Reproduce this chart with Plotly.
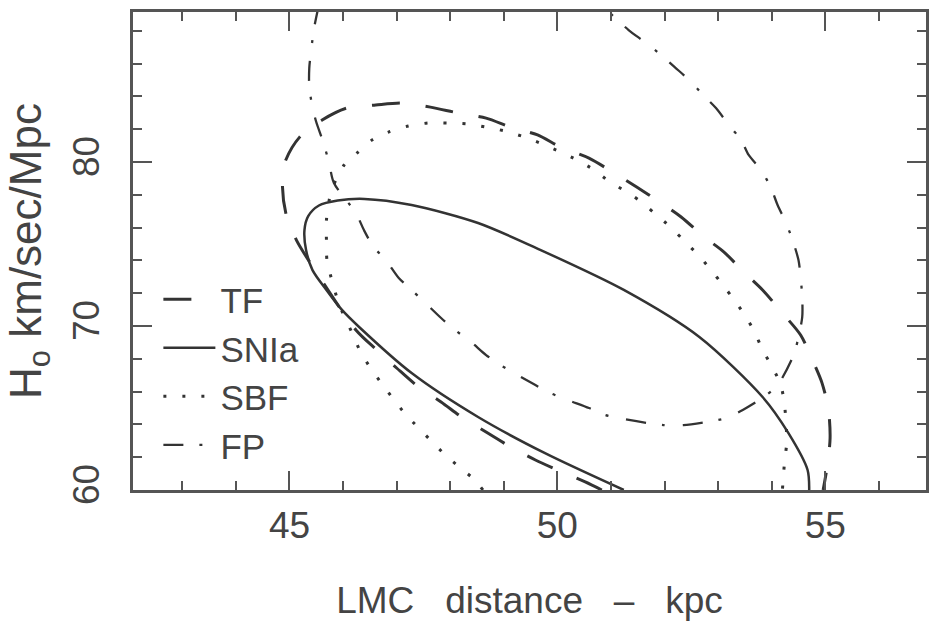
import plotly.graph_objects as go

# ---- data (LMC distance [kpc], H0 [km/s/Mpc]) ----
tf_x = [50.83, 50.52, 50.00, 49.59, 49.13, 48.70, 48.24, 47.83, 47.41, 47.00, 46.63, 46.24,
        45.56, 45.13, 44.94, 44.87, 44.91, 45.19, 45.61, 46.07, 46.61, 47.13, 47.63, 48.15,
        48.67, 49.13, 49.63, 50.06, 50.59, 51.06, 51.48, 51.91, 52.31, 52.74, 53.11, 53.48,
        53.83, 54.20, 54.54, 54.76, 54.94, 55.06, 55.09, 55.04, 54.96]
tf_y = [60.0, 60.49, 61.22, 61.83, 62.62, 63.48, 64.39, 65.37, 66.28, 67.44, 68.54, 69.76,
        72.99, 75.24, 76.77, 78.48, 79.94, 81.52, 82.56, 83.29, 83.48, 83.60, 83.35, 82.99,
        82.68, 82.13, 81.65, 80.91, 80.24, 79.33, 78.48, 77.56, 76.65, 75.43, 74.51, 73.29,
        72.20, 70.79, 69.45, 67.93, 66.52, 64.88, 63.17, 61.52, 60.0]

snia_x = [51.24, 49.76, 48.52, 47.28, 46.30, 45.98, 45.69, 45.43, 45.31, 45.28, 45.35,
          45.55, 45.90, 46.40, 47.28, 48.52, 49.69, 51.24, 52.65, 53.83, 54.31, 54.67, 54.70]
snia_y = [60.0, 62.26, 64.45, 67.13, 69.94, 70.98, 72.20, 73.41, 74.63, 75.85, 76.70,
          77.35, 77.65, 77.75, 77.38, 76.28, 74.63, 72.20, 69.33, 65.67, 63.48, 61.22, 60.0]

sbf_x = [48.61, 48.46, 48.19, 47.91, 47.63, 47.41, 47.13, 46.91, 46.70, 46.50, 46.31, 46.17,
         45.93, 45.78, 45.70, 45.69, 45.69, 45.78, 46.02, 46.26, 46.54, 46.85, 47.22, 47.59,
         47.96, 48.33, 48.67, 49.02, 49.39, 49.72, 50.06, 50.37, 50.69, 50.98, 51.30, 51.57,
         51.85, 52.13, 52.37, 52.63, 52.87, 53.09, 53.30, 53.52, 53.69, 53.83, 54.02, 54.17,
         54.24, 54.28, 54.24, 54.20]
sbf_y = [60.0, 60.61, 61.34, 62.13, 63.05, 63.78, 64.76, 65.67, 66.59, 67.50, 68.54, 69.57,
         71.30, 72.93, 74.02, 75.24, 76.46, 78.20, 79.82, 80.55, 81.34, 81.83, 82.20, 82.38,
         82.38, 82.32, 82.13, 81.89, 81.52, 81.10, 80.61, 80.12, 79.51, 78.78, 78.17, 77.56,
         76.77, 75.98, 75.18, 74.33, 73.41, 72.50, 71.59, 70.55, 69.57, 68.54, 67.44, 66.40,
         65.18, 62.93, 61.71, 60.0]

fp_x = [45.55, 45.46, 45.41, 45.37, 45.37, 45.43, 45.50, 45.63, 45.74, 45.83, 46.24, 46.39,
        46.57, 46.80, 47.04, 47.28, 47.54, 47.83, 48.09, 48.39, 48.67, 48.94, 49.26, 49.59,
        49.87, 50.19, 50.59, 50.89, 51.24, 51.67, 51.98, 52.35, 52.78, 53.15, 53.46, 53.85,
        54.11, 54.41, 54.50, 54.57, 54.57, 54.54, 54.50, 54.39, 54.26, 54.11, 53.98, 53.80,
        53.57, 53.43, 53.20, 52.96, 52.72, 52.46, 52.19, 51.94, 51.63, 51.33, 50.98, 50.80]
fp_y = [89.60, 88.17, 86.95, 85.73, 84.57, 83.35, 82.44, 81.22, 79.94, 78.72, 76.89, 75.85,
        74.82, 74.02, 72.93, 72.20, 71.40, 70.49, 69.76, 69.02, 68.23, 67.62, 67.01, 66.40,
        65.91, 65.49, 65.00, 64.57, 64.33, 64.09, 63.96, 63.96, 64.15, 64.39, 64.88, 65.67,
        66.40, 68.23, 69.33, 70.55, 71.71, 72.99, 74.02, 75.24, 76.34, 77.38, 78.48, 79.51,
        80.43, 81.34, 82.26, 83.29, 84.09, 85.00, 85.79, 86.52, 87.32, 88.05, 89.09, 89.60]

names = ["TF", "SNIa", "SBF", "FP"]
x_ticks = [45, 50, 55]
y_ticks = [60, 70, 80]

INK = "#333333"
AX = "#555555"
TXT = "#444444"
FONT = "Liberation Sans"

fig = go.Figure()
styles = {
    "TF": dict(width=3.0, dash="28px,26px"),
    "SNIa": dict(width=2.5, dash="solid"),
    "SBF": dict(width=3.0, dash="3px,16px"),
    "FP": dict(width=2.3, dash="20px,16px,3px,18px"),
}
for nm, xs, ys in zip(names, [tf_x, snia_x, sbf_x, fp_x], [tf_y, snia_y, sbf_y, fp_y]):
    fig.add_trace(go.Scatter(
        x=xs, y=ys, mode="lines", name=nm,
        line=dict(color=INK, shape="spline", smoothing=0.8, **styles[nm]),
    ))

axis_common = dict(
    showgrid=False, zeroline=False, showline=True, linecolor=AX, linewidth=2.5,
    ticks="inside", ticklen=19, tickwidth=2.2, tickcolor=AX, mirror="allticks",
    tickfont=dict(family=FONT, size=37, color=TXT),
)

NB = "\u00a0"
fig.update_xaxes(
    range=[42.08, 56.88], tickvals=x_ticks, ticktext=[str(v) for v in x_ticks],
    minor=dict(dtick=1, tick0=42, ticks="inside", ticklen=9, tickwidth=2, tickcolor=AX),
    ticklabelstandoff=1,
    title=dict(text=f"LMC{NB}{NB}{NB}distance{NB}{NB}{NB}\u2013{NB}{NB}{NB}kpc",
               font=dict(family=FONT, size=37, color=TXT), standoff=42),
    **axis_common,
)
fig.update_yaxes(
    range=[60, 89.15], tickvals=y_ticks, ticktext=[str(v) for v in y_ticks], tickangle=-90,
    minor=dict(dtick=2, tick0=60, ticks="inside", ticklen=9, tickwidth=2, tickcolor=AX),
    ticklabelstandoff=16,
    title=dict(text=f"H<sub>o</sub>{NB}km/sec/Mpc", font=dict(family=FONT, size=44, color=TXT),
               standoff=12),
    **axis_common,
)

fig.update_layout(
    width=929, height=626,
    margin=dict(l=133, r=0, t=12, b=136),
    paper_bgcolor="white", plot_bgcolor="white",
    legend=dict(x=0.032, y=0.46, xanchor="left", yanchor="top",
                bgcolor="rgba(0,0,0,0)", borderwidth=0, itemwidth=52,
                font=dict(family=FONT, size=35, color=TXT), tracegroupgap=0),
    showlegend=True,
)

fig.write_html("out.html")
